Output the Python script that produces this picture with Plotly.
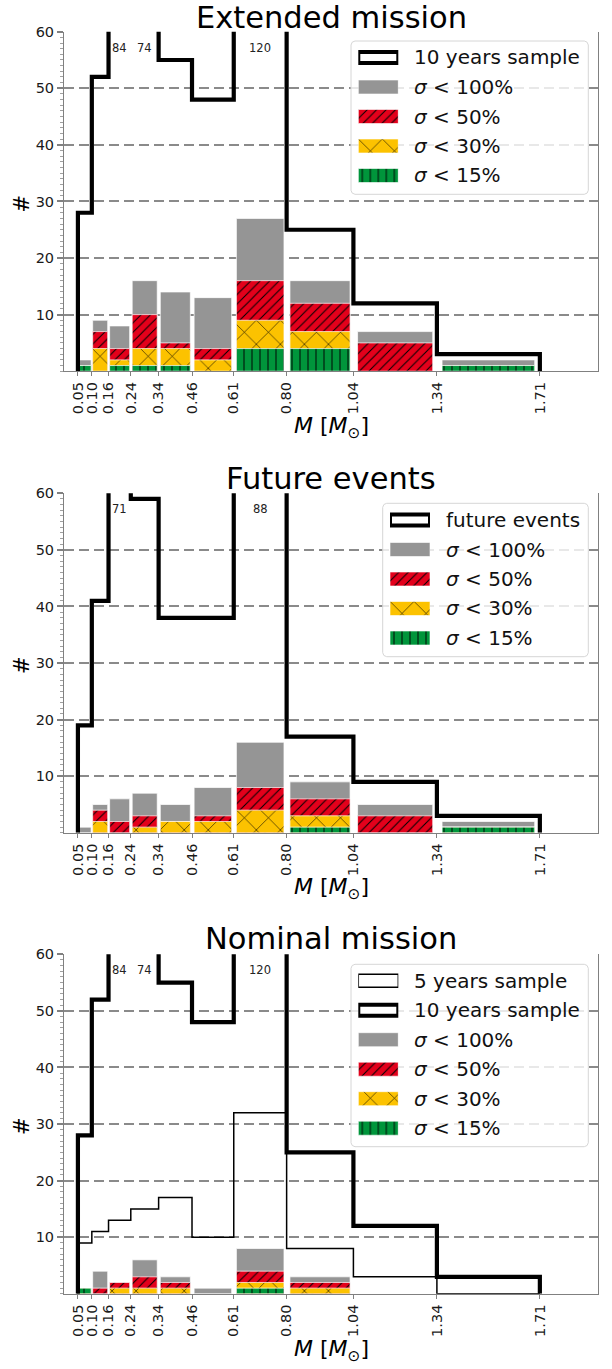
import plotly.graph_objects as go

W, H = 612, 1369

# ---------------- data ----------------
edges = [0.05, 0.10, 0.16, 0.24, 0.34, 0.46, 0.61, 0.80, 1.04, 1.34, 1.71]
edge_labels = ["0.05", "0.10", "0.16", "0.24", "0.34", "0.46", "0.61", "0.80", "1.04", "1.34", "1.71"]

# Extended mission
ext_10yr = [28, 52, 84, 74, 55, 48, 120, 25, 12, 3]
ext_s100 = [2, 9, 8, 16, 14, 13, 27, 16, 7, 2]
ext_s50 = [1, 7, 4, 10, 5, 4, 16, 12, 5, 1]
ext_s30 = [1, 4, 2, 4, 4, 2, 9, 7, 0, 1]
ext_s15 = [1, 0, 1, 1, 1, 0, 4, 4, 0, 1]

# Future events
fut_events = [19, 41, 71, 59, 38, 38, 88, 17, 9, 3]
fut_s100 = [1, 5, 6, 7, 5, 8, 16, 9, 5, 2]
fut_s50 = [0, 4, 2, 3, 2, 3, 8, 6, 3, 1]
fut_s30 = [0, 2, 0, 1, 2, 2, 4, 3, 0, 1]
fut_s15 = [0, 0, 0, 0, 0, 0, 0, 1, 0, 1]

# Nominal mission
nom_5yr = [9, 11, 13, 15, 17, 10, 32, 8, 3, 0]
nom_10yr = [28, 52, 84, 74, 55, 48, 120, 25, 12, 3]
nom_s100 = [1, 4, 2, 6, 3, 1, 8, 3, 0, 0]
nom_s50 = [1, 1, 2, 3, 2, 0, 4, 2, 0, 0]
nom_s30 = [1, 0, 1, 1, 1, 0, 2, 1, 0, 0]
nom_s15 = [1, 0, 0, 0, 0, 0, 1, 0, 0, 0]

sigma_names = ["<i>σ</i> < 100%", "<i>σ</i> < 50%", "<i>σ</i> < 30%", "<i>σ</i> < 15%"]

panels = [
    dict(title="Extended mission",
         steps=[("10 years sample", ext_10yr, "thick")],
         bars=[ext_s100, ext_s50, ext_s30, ext_s15]),
    dict(title="Future events",
         steps=[("future events", fut_events, "thick")],
         bars=[fut_s100, fut_s50, fut_s30, fut_s15]),
    dict(title="Nominal mission",
         steps=[("5 years sample", nom_5yr, "thin"), ("10 years sample", nom_10yr, "thick")],
         bars=[nom_s100, nom_s50, nom_s30, nom_s15]),
]

# ---------------- styles / geometry ----------------
FONT = "DejaVu Sans"
GRAY = "#959595"
RED = "#e3001b"
YELLOW = "#fcc200"
GREEN = "#00953b"
AXC = "#808080"

bar_styles = [
    dict(color=GRAY, shape="", size=8, solidity=0.1),
    dict(color=RED, shape="/", size=6.7, solidity=0.15),
    dict(color=YELLOW, shape="x", size=17, solidity=0.065),
    dict(color=GREEN, shape="|", size=8, solidity=0.12),
]
step_styles = {"thick": dict(width=4.2), "thin": dict(width=1.5)}

PLOT_L, PLOT_R = 64.0, 598.3
PLOT_H = 339.5
XMAX, YMAX = 1.92, 60
panel_tops = [31.7, 493.3, 954.3]
title_cy = [18, 478, 938]
title_size = 30.5
xlabel_cy = [427, 888, 1350]
legend_geo = [
    dict(box=(351, 41, 588.3, 194.3), sw=(358.3, 398.3), text_x=412, row0=57.5),
    dict(box=(382.7, 503.3, 588.3, 656.7), sw=(390, 430), text_x=444, row0=520),
    dict(box=(351, 964.3, 588.3, 1146.7), sw=(358.3, 398.3), text_x=412, row0=980.7),
]
ROW = 29.5


def px_x(p):
    return p / W


def px_y(p):
    return 1 - p / H


def make_marker(st, edge="rgba(255,255,255,0.7)"):
    m = dict(color=st["color"], line=dict(color=edge, width=1))
    if st["shape"]:
        m["pattern"] = dict(shape=st["shape"], size=st["size"], solidity=st["solidity"],
                            fgcolor="black", bgcolor=st["color"], fillmode="replace")
    return m


centers = [(a + b) / 2 for a, b in zip(edges[:-1], edges[1:])]
widths = [0.9 * (b - a) for a, b in zip(edges[:-1], edges[1:])]

traces = []
layout = dict(
    width=W, height=H, autosize=False,
    margin=dict(l=0, r=0, t=0, b=0, pad=0),
    paper_bgcolor="white", plot_bgcolor="rgba(0,0,0,0)",
    barmode="overlay", showlegend=False,
    font=dict(family=FONT, color="#1a1a1a"),
)
annotations = []

for i, p in enumerate(panels):
    sfx = "" if i == 0 else str(i + 1)
    lsfx = str(i + 4)
    top = panel_tops[i]
    bot = top + PLOT_H
    xa, ya = "x" + sfx, "y" + sfx

    layout["xaxis" + sfx] = dict(
        domain=[px_x(PLOT_L), px_x(PLOT_R)], anchor=ya, range=[0, XMAX], automargin=False,
        showgrid=False, zeroline=False, showline=True, linecolor=AXC, linewidth=1,
        ticks="outside", ticklen=4, tickcolor=AXC, tickwidth=1,
        tickmode="array", tickvals=edges, ticktext=edge_labels, tickangle=-90,
        tickfont=dict(family=FONT, size=14.5, color="#1a1a1a"), fixedrange=True,
    )
    layout["yaxis" + sfx] = dict(
        domain=[px_y(bot), px_y(top)], anchor=xa, range=[0, YMAX], automargin=False,
        showgrid=True, gridcolor="#8a8a8a", gridwidth=2, griddash="10px,5px",
        zeroline=False, showline=True, mirror=True, linecolor=AXC, linewidth=1,
        ticks="outside", ticklen=6, tickcolor=AXC, tickwidth=1.5,
        tickmode="array", tickvals=[10, 20, 30, 40, 50, 60],
        tickfont=dict(family=FONT, size=14.5, color="#1a1a1a"),
        minor=dict(dtick=1, ticks="outside", ticklen=3, tickcolor="#a0a0a0", tickwidth=1, showgrid=False),
        fixedrange=True,
    )

    # legend box (semi-transparent white, drawn above the grid, below the marks)
    g = legend_geo[i]
    x0, y0, x1, y1 = g["box"]
    dx = lambda q: (q - PLOT_L) / (PLOT_R - PLOT_L) * XMAX
    dy = lambda q, b=bot: (b - q) / PLOT_H * YMAX
    r = 4
    rxd, ryd = r / (PLOT_R - PLOT_L) * XMAX, r / PLOT_H * YMAX
    X0, X1, YT, YB = dx(x0), dx(x1), dy(y0), dy(y1)
    bx = [X0 + rxd, X1 - rxd, X1 - rxd * 0.3, X1, X1, X1 - rxd * 0.3, X1 - rxd, X0 + rxd,
          X0 + rxd * 0.3, X0, X0, X0 + rxd * 0.3, X0 + rxd]
    by = [YT, YT, YT - ryd * 0.3, YT - ryd, YB + ryd, YB + ryd * 0.3, YB, YB,
          YB + ryd * 0.3, YB + ryd, YT - ryd, YT - ryd * 0.3, YT]
    traces.append(go.Scatter(x=bx, y=by, mode="lines", fill="toself",
                             fillcolor="rgba(255,255,255,0.8)", line=dict(color="#d6d6d6", width=1),
                             xaxis=xa, yaxis=ya, hoverinfo="skip"))

    # bars (cumulative thresholds, overlaid)
    for vals, st, nm in zip(p["bars"], bar_styles, sigma_names):
        traces.append(go.Bar(
            x=centers, y=[v if v > 0 else None for v in vals], width=widths,
            marker=make_marker(st), xaxis=xa, yaxis=ya, name=nm, hoverinfo="skip",
        ))

    # step outlines
    for nm, vals, sty in p["steps"]:
        sx = [edges[0]] + edges
        sy = [0] + vals + [0]
        traces.append(go.Scatter(
            x=sx, y=sy, mode="lines", xaxis=xa, yaxis=ya, name=nm,
            line=dict(color="black", width=step_styles[sty]["width"], shape="hv"),
            hoverinfo="skip",
        ))
        if sty == "thick":
            for c, v in zip(centers, vals):
                if v > YMAX:
                    annotations.append(dict(
                        x=c, y=57.2, xref=xa, yref=ya, text=str(v), showarrow=False,
                        font=dict(family=FONT, size=11.5, color="#222"),
                        xanchor="center", yanchor="middle"))

    # titles and axis labels
    annotations.append(dict(x=px_x((PLOT_L + PLOT_R) / 2), y=px_y(title_cy[i]), xref="paper", yref="paper",
                            text=p["title"], showarrow=False, xanchor="center", yanchor="middle",
                            font=dict(family=FONT, size=title_size, color="black")))
    annotations.append(dict(x=px_x((PLOT_L + PLOT_R) / 2), y=px_y(xlabel_cy[i]), xref="paper", yref="paper",
                            text="<i>M</i> [<i>M</i><sub>⊙</sub>]", showarrow=False, xanchor="center",
                            yanchor="middle", font=dict(family=FONT, size=22, color="black")))
    annotations.append(dict(x=px_x(22), y=px_y(top + PLOT_H / 2 + 2), xref="paper", yref="paper",
                            text="#", textangle=-90, showarrow=False, xanchor="center", yanchor="middle",
                            font=dict(family=FONT, size=21, color="black")))

    # legend swatches on a small helper axis
    entries = []
    for nm, vals, sty in p["steps"]:
        entries.append((nm, "step_" + sty))
    for k, nm in enumerate(sigma_names):
        entries.append((nm, k))
    n = len(entries)
    ltop = g["row0"] - ROW / 2
    lbot = g["row0"] + (n - 1) * ROW + ROW / 2
    layout["xaxis" + lsfx] = dict(domain=[px_x(g["sw"][0]), px_x(g["sw"][1])], anchor="y" + lsfx,
                                  range=[0, 1], visible=False, fixedrange=True, automargin=False)
    layout["yaxis" + lsfx] = dict(domain=[px_y(lbot), px_y(ltop)], anchor="x" + lsfx,
                                  range=[-(n - 1) - 0.5, 0.5], visible=False, fixedrange=True,
                                  automargin=False)
    for k, (nm, key) in enumerate(entries):
        if key == "step_thick":
            marker = dict(color="white", line=dict(color="black", width=4))
            hgt = 11 / ROW
        elif key == "step_thin":
            marker = dict(color="white", line=dict(color="black", width=1.5))
            hgt = 13 / ROW
        else:
            marker = make_marker(bar_styles[key], edge="rgba(255,255,255,0.6)")
            hgt = 14 / ROW
        traces.append(go.Bar(orientation="h", x=[1], y=[-k], base=[0], width=[hgt],
                             marker=marker, xaxis="x" + lsfx, yaxis="y" + lsfx,
                             cliponaxis=False, hoverinfo="skip"))
        annotations.append(dict(x=px_x(g["text_x"]), y=px_y(g["row0"] + k * ROW), xref="paper", yref="paper",
                                text=nm, showarrow=False, xanchor="left", yanchor="middle",
                                font=dict(family=FONT, size=20, color="#111")))

layout["annotations"] = annotations

fig = go.Figure(data=traces, layout=layout)
fig.write_html("out.html")
